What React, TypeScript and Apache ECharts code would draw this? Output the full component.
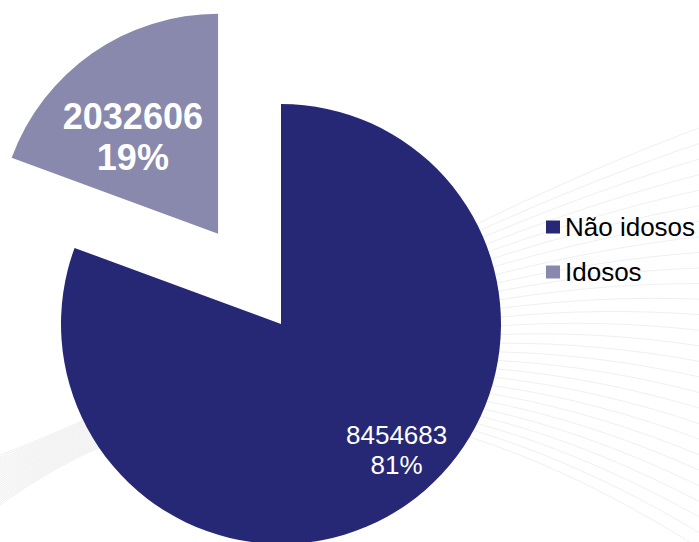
import React, { useEffect, useRef } from "react";
import * as echarts from "echarts";

const categories = ["Não idosos", "Idosos"];
const values = [8454683, 2032606];
const colors = ["#262876", "#8989AD"];

function backgroundLines() {
  const items: any[] = [];
  const n = 28;
  for (let i = 0; i < n; i++) {
    const t = i / (n - 1);
    items.push({
      type: "bezierCurve",
      silent: true,
      z: -10,
      shape: {
        x1: 0,
        y1: 455 + 50 * t,
        cpx1: 200,
        cpy1: 380 - 20 * t,
        cpx2: 430,
        cpy2: 228 + 150 * t,
        x2: 699,
        y2: 128 + 420 * t,
      },
      style: { stroke: "#f0f0f0", lineWidth: 1, fill: null },
    });
  }
  return items;
}

export default function App() {
  const ref = useRef<HTMLDivElement>(null);
  useEffect(() => {
    if (!ref.current) return;
    const chart = echarts.init(ref.current, null, { renderer: "svg" });
    const total = values.reduce((a, b) => a + b, 0);
    const labelStyle = [
      { size: 26, weight: "normal", lh: 30, offset: [51, 33], selOffset: [51, 33] },
      { size: 36, weight: "bold", lh: 41, offset: [0, 0], selOffset: [18, 13] },
    ];
    chart.setOption({
      animation: false,
      backgroundColor: "#ffffff",
      graphic: backgroundLines(),
      legend: {
        orient: "vertical",
        left: 546,
        top: 214,
        padding: 0,
        itemWidth: 14,
        itemHeight: 13,
        itemGap: 19,
        icon: "rect",
        selectedMode: false,
        data: categories,
        textStyle: {
          fontFamily: "Liberation Sans, Arial, sans-serif",
          fontSize: 26,
          color: "#000000",
        },
      },
      series: [
        {
          type: "pie",
          center: [281, 324],
          radius: 220,
          startAngle: 90,
          clockwise: true,
          selectedMode: "single",
          selectedOffset: 110,
          avoidLabelOverlap: false,
          emphasis: { disabled: true },
          labelLine: { show: false },
          data: categories.map((name, i) => {
            const label = {
              show: true,
              position: "inside",
              color: "#ffffff",
              overflow: "none",
              fontFamily: "Liberation Sans, Arial, sans-serif",
              fontSize: labelStyle[i].size,
              fontWeight: labelStyle[i].weight,
              lineHeight: labelStyle[i].lh,
              offset: labelStyle[i].offset,
              formatter: () =>
                `${values[i]}\n${Math.round((values[i] / total) * 100)}%`,
            };
            return {
              name,
              value: values[i],
              selected: i === 1,
              itemStyle: { color: colors[i] },
              label,
              select: {
                itemStyle: { color: colors[i] },
                label: { ...label, offset: labelStyle[i].selOffset },
              },
            };
          }),
        },
      ],
    });
    return () => chart.dispose();
  }, []);
  return (
    <div
      ref={ref}
      style={{ position: "fixed", left: 0, top: 0, width: 699, height: 542 }}
    />
  );
}
